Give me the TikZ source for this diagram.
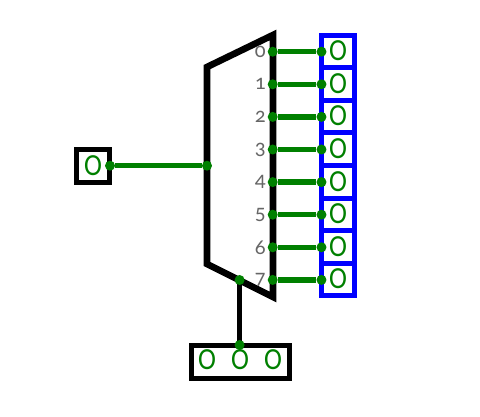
\documentclass[tikz,border=0pt]{standalone}
\usepackage{fontspec}
\newfontfamily\pinfont[FakeStretch=0.88]{Carlito}
\newfontfamily\indexfont[Numbers=OldStyle]{Carlito}
\usetikzlibrary{positioning}
\definecolor{WireGreen}{HTML}{008000}
\definecolor{PinBlue}{HTML}{0000FF}
\definecolor{LabelGray}{HTML}{666666}
\begin{document}
\begin{tikzpicture}[
    x=0.75pt, y=-0.75pt,
    cell/.style={draw=#1, line width=3.7pt, fill=white, text=WireGreen, font=\pinfont\fontsize{23}{23}\selectfont, inner sep=0pt},
    letter/.style={text=WireGreen, font=\pinfont\fontsize{23}{23}\selectfont, inner sep=0pt},
    joint/.style={circle, fill=WireGreen, inner sep=0pt, outer sep=0pt, minimum size=7.5pt},
    wire/.style={draw=WireGreen, line width=4pt},
    index/.style={text=LabelGray, anchor=east, inner sep=0pt, font=\indexfont\fontsize{16}{16}\selectfont}
]
    \useasboundingbox (0,0) rectangle (480,417);

    % Mux body
    \draw[line width=5pt, miter limit=10] (207,67) -- (273,35) -- (273,297) -- (207,264) -- cycle;

    % Output cells (blue)
    \foreach \i in {0,...,7} {
        \node[cell=PinBlue, minimum width=24.6pt, minimum height=24.4pt] (out\i) at (338,{51.6+32.55*\i}) {\raisebox{1pt}{O}};
    }

    % Select input
    \node[cell=black, minimum size=24.9pt] (sel) at (93,166) {\raisebox{1pt}{O}};

    % Bottom register
    \node[cell=black, minimum width=73.4pt, minimum height=24.7pt] (reg) at (240.3,361.8) {};
    \node[letter] (regA) at (207,359.5) {O};
    \node[letter] (regB) at (240,359.5) {O};
    \node[letter] (regC) at (273,359.5) {O};

    % Wires with their end joints
    \foreach \i in {0,...,7} {
        \node[joint] (from\i) at (272.7,{51.7+32.6*\i}) {};
        \node[joint] (to\i) at (321.5,{51.7+32.6*\i}) {};
        \draw[wire] (from\i) -- (to\i);
        \node[index] (lab\i) at (266,{51.7+32.6*\i}) {\i};
    }
    \node[joint] (selOut) at (110,165.7) {};
    \node[joint] (muxIn) at (207,165.7) {};
    \draw[wire] (selOut) -- (muxIn);

    % Vertical link to register
    \draw[line width=3.4pt] (239.6,280) coordinate (muxBot) -- (239.6,345) coordinate (regTop);
    \node[joint] (muxDot) at (muxBot) {};
    \node[joint] (regDot) at (regTop) {};
\end{tikzpicture}
\end{document}
